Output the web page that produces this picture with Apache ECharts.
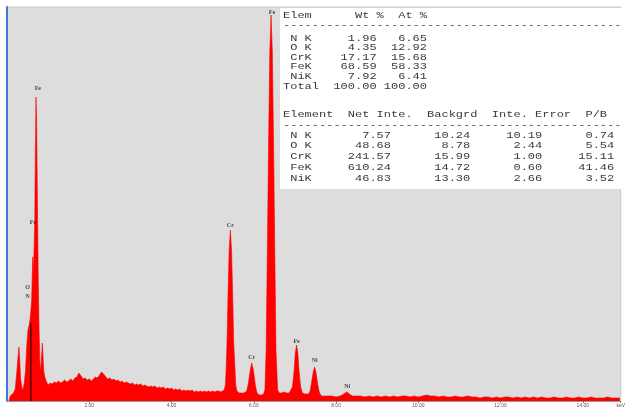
<!DOCTYPE html>
<html lang="en" style="height: 100%">
<head>
<meta charset="utf-8">
<title>EDS spectrum</title>
</head>
<body style="height: 100%; margin: 0; background: #ffffff">
<div id="container" style="width: 628px; height: 409px"></div>
<script type="text/javascript" src="https://cdn.jsdelivr.net/npm/echarts@6/dist/echarts.min.js"></script>
<script type="text/javascript">

// spectrum, [keV, counts]
var lowEnergy = [
  [0.05, 0], [0.08, 5], [0.12, 7], [0.16, 8], [0.20, 12], [0.23, 25], [0.26, 40], [0.29, 54],
  [0.31, 40], [0.33, 22], [0.36, 14], [0.39, 11], [0.42, 18], [0.45, 30], [0.48, 55], [0.51, 71],
  [0.54, 76], [0.57, 85], [0.60, 101], [0.625, 144], [0.645, 130], [0.66, 128], [0.675, 180],
  [0.69, 250], [0.705, 304], [0.72, 280], [0.74, 200], [0.76, 120], [0.78, 70], [0.80, 38],
  [0.82, 30], [0.84, 45], [0.86, 58], [0.875, 45], [0.89, 31], [0.92, 24], [0.95, 20]
];
var background = [
  [1.00, 16], [1.05, 18], [1.10, 17], [1.15, 19], [1.20, 18], [1.25, 20], [1.30, 18], [1.35, 19],
  [1.40, 21], [1.45, 19], [1.50, 20], [1.55, 22], [1.60, 20], [1.65, 23], [1.70, 24], [1.75, 28],
  [1.80, 25], [1.85, 22], [1.90, 23], [1.95, 21], [2.00, 22], [2.05, 20], [2.10, 22], [2.15, 24],
  [2.20, 23], [2.25, 26], [2.30, 29], [2.35, 27], [2.40, 24], [2.45, 22], [2.50, 23], [2.55, 21],
  [2.60, 22], [2.65, 20], [2.70, 21], [2.75, 19], [2.80, 20], [2.85, 18], [2.90, 19], [2.95, 18],
  [3.00, 17], [3.05, 18], [3.10, 16], [3.15, 17], [3.20, 16], [3.25, 17], [3.30, 15], [3.35, 16],
  [3.40, 15], [3.45, 14], [3.50, 15], [3.55, 14], [3.60, 15], [3.65, 13], [3.70, 14], [3.75, 13],
  [3.80, 14], [3.85, 12], [3.90, 13], [3.95, 12], [4.00, 13], [4.05, 11], [4.10, 12], [4.15, 11],
  [4.20, 12], [4.25, 10], [4.30, 11], [4.35, 10], [4.40, 11], [4.45, 10], [4.50, 11], [4.55, 9],
  [4.60, 10], [4.65, 9], [4.70, 10], [4.75, 9], [4.80, 10], [4.85, 9], [4.90, 10], [4.95, 9],
  [5.00, 10], [5.05, 9], [5.10, 10], [5.15, 10], [5.20, 9], [5.24, 10]
];
var kLines = [
  [5.28, 11], [5.31, 16], [5.33, 34], [5.35, 60], [5.37, 100], [5.40, 150], [5.43, 171],
  [5.46, 150], [5.49, 100], [5.51, 60], [5.54, 34], [5.56, 16], [5.59, 10], [5.64, 8],
  [5.70, 8], [5.76, 8], [5.83, 10], [5.87, 18], [5.91, 30], [5.95, 38], [5.99, 31], [6.03, 18],
  [6.07, 9], [6.12, 6], [6.18, 6], [6.24, 7], [6.27, 11], [6.30, 50], [6.33, 150], [6.36, 260],
  [6.39, 350], [6.42, 386], [6.45, 350], [6.48, 260], [6.51, 150], [6.54, 50], [6.58, 11],
  [6.62, 8], [6.68, 8], [6.74, 9], [6.80, 8], [6.86, 8], [6.90, 9], [6.94, 14], [6.98, 30],
  [7.01, 48], [7.04, 56], [7.07, 48], [7.10, 30], [7.14, 14], [7.18, 8], [7.25, 7], [7.33, 7],
  [7.37, 10], [7.41, 20], [7.45, 30], [7.48, 34], [7.51, 29], [7.55, 18], [7.59, 9], [7.64, 5],
  [7.70, 5], [7.80, 5], [7.90, 5], [8.00, 4], [8.10, 5], [8.15, 6], [8.22, 8], [8.27, 9],
  [8.32, 7], [8.40, 5]
];
var tail = [
  [8.5, 5], [8.6, 5], [8.7, 4], [8.8, 5], [8.9, 4], [9.0, 5], [9.1, 4], [9.2, 5], [9.3, 4],
  [9.4, 5], [9.5, 4], [9.6, 5], [9.7, 5], [9.8, 4], [9.9, 5], [10.0, 4], [10.1, 5], [10.2, 6],
  [10.3, 5], [10.4, 5], [10.5, 4], [10.6, 5], [10.7, 4], [10.8, 4], [10.9, 5], [11.0, 4],
  [11.1, 4], [11.2, 5], [11.3, 4], [11.4, 4], [11.5, 3], [11.6, 4], [11.7, 4], [11.8, 3],
  [11.9, 4], [12.0, 3], [12.1, 4], [12.2, 4], [12.3, 3], [12.4, 4], [12.5, 3], [12.6, 4],
  [12.7, 3], [12.8, 4], [12.9, 3], [13.0, 4], [13.1, 3], [13.2, 3], [13.3, 4], [13.4, 3],
  [13.5, 3], [13.6, 4], [13.7, 3], [13.8, 3], [13.9, 4], [14.0, 3], [14.1, 3], [14.2, 4],
  [14.3, 3], [14.4, 3], [14.5, 3], [14.6, 4], [14.7, 3], [14.8, 3], [14.9, 3]
];

// peak identifiers: name, keV, counts
var peakLabels = [
  ['Fe', 0.75, 313], ['Fe', 0.63, 179], ['O', 0.50, 114], ['N', 0.50, 105],
  ['Cr', 5.43, 176], ['Cr', 5.95, 44], ['Fe', 6.44, 389], ['Fe', 7.04, 60],
  ['Ni', 7.48, 41], ['Ni', 8.27, 15]
];
var markerLine = [[0.58, 0], [0.58, 78]];

// quantification tables
var elements = ['N K', 'O K', 'CrK', 'FeK', 'NiK'];
var wtPct = ['1.96', '4.35', '17.17', '68.59', '7.92'];
var atPct = ['6.65', '12.92', '15.68', '58.33', '6.41'];
var netInte = ['7.57', '48.68', '241.57', '610.24', '46.83'];
var backgrd = ['10.24', '8.78', '15.99', '14.72', '13.30'];
var inteError = ['10.19', '2.44', '1.00', '0.60', '2.66'];
var pOverB = ['0.74', '5.54', '15.11', '41.46', '3.52'];

var spectrum = lowEnergy.concat(background, kLines, tail);

function pad(s, n) { return String(s).padStart(n, ' '); }

var dashes = new Array(48).join('-');
var upperLines = ['Elem      Wt %  At %', dashes];
elements.forEach(function (el, i) {
  upperLines.push(' ' + el + pad(wtPct[i], 9) + pad(atPct[i], 7));
});
upperLines.push('Total  100.00 100.00');

var lowerLines = ['Element  Net Inte.  Backgrd  Inte. Error  P/B', dashes];
elements.forEach(function (el, i) {
  lowerLines.push(' ' + el + pad(netInte[i], 11) + pad(backgrd[i], 11) +
    pad(inteError[i], 10) + pad(pOverB[i], 10));
});

var upperY = [15, 25, 38, 47.6, 57.2, 66.8, 76.4, 86];
var lowerY = [114, 125, 135, 145.8, 156.5, 167.3, 178];

function tableLine(t, y) {
  return {
    type: 'text', x: 283, y: y - 4.5, scaleY: 0.78, silent: true,
    style: { text: t, fill: '#3a3a3a', font: '12px "Liberation Mono"', textBaseline: 'top' }
  };
}
var tableText = [];
upperLines.forEach(function (t, i) { tableText.push(tableLine(t, upperY[i])); });
lowerLines.forEach(function (t, i) { tableText.push(tableLine(t, lowerY[i])); });

var dom = document.getElementById('container');
var myChart = echarts.init(dom);

var option = {
  animation: false,
  backgroundColor: '#ffffff',
  grid: {
    left: 7, right: 3, top: 7, bottom: 8,
    show: true, backgroundColor: '#dddddd', borderColor: '#c8c8c8', borderWidth: 1
  },
  xAxis: {
    type: 'value',
    min: 0,
    max: 14.92,
    interval: 2,
    splitLine: { show: false },
    axisLine: { lineStyle: { color: '#9a9a9a', width: 1 } },
    axisTick: { length: 2, lineStyle: { color: '#777' } },
    axisLabel: {
      showMinLabel: false,
      margin: 2,
      fontSize: 5,
      color: '#555',
      fontFamily: 'Liberation Sans',
      formatter: function (v) {
        if (v > 14.5) return 'keV';
        return v.toFixed(2);
      }
    }
  },
  yAxis: {
    type: 'value',
    min: 0,
    max: 394,
    splitLine: { show: false },
    axisTick: { show: false },
    axisLabel: { show: false },
    axisLine: { show: true, lineStyle: { color: '#3f79d9', width: 2 } }
  },
  graphic: [
    { type: 'rect', silent: true, shape: { x: 280, y: 8, width: 345, height: 181 },
      style: { fill: '#ffffff' } }
  ].concat(tableText),
  series: [
    {
      type: 'line',
      data: spectrum,
      symbol: 'none',
      lineStyle: { color: '#ff0000', width: 0.6 },
      areaStyle: { color: '#ff0000', opacity: 1 },
      z: 2
    },
    {
      type: 'line',
      data: markerLine,
      symbol: 'none',
      lineStyle: { color: '#000000', width: 1 },
      z: 3
    },
    {
      type: 'scatter',
      symbolSize: 0,
      data: peakLabels.map(function (p) { return { name: p[0], value: [p[1], p[2]] }; }),
      label: {
        show: true,
        position: 'inside',
        formatter: '{b}',
        fontSize: 6,
        fontWeight: 'bold',
        fontFamily: 'Liberation Serif',
        color: '#222'
      },
      z: 4
    }
  ]
};

myChart.setOption(option);
window.addEventListener('resize', myChart.resize);
</script>
</body>
</html>
